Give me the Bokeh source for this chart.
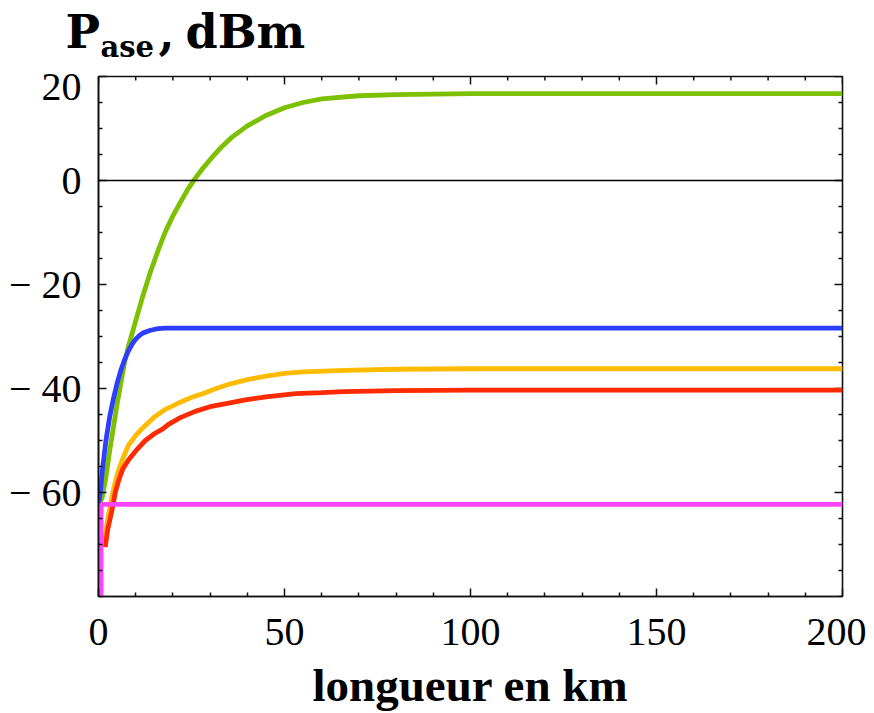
import numpy as np
from bokeh.plotting import figure
from bokeh.layouts import column
from bokeh.models import Range1d, FixedTicker, Span
from bokeh.core.properties import value
from bokeh.embed import file_html
from bokeh.resources import INLINE

# ---- data ----
green_km = [0, 1, 2, 3, 4, 5, 6, 7, 8, 10, 12, 14, 16, 18, 20, 22, 24, 26, 28, 30,
            33, 36, 40, 45, 50, 55, 60, 70, 80, 100, 150, 200]
green_db = [-62.5, -61, -57, -52, -47.5, -43, -39, -35, -32, -27, -22, -17.5, -13.5, -9.8,
            -6.8, -4.2, -1.7, 0.4, 2.3, 4, 6.4, 8.4, 10.5, 12.5, 14, 15, 15.7, 16.3, 16.5,
            16.7, 16.7, 16.7]

blue_km = [0, 0.5, 1, 2, 3, 4, 5, 6, 7, 8, 9, 10, 11, 12, 14, 16, 18, 200]
blue_db = [-62.5, -60, -56, -50, -45.5, -42, -39, -36.5, -34.5, -32.8, -31.5, -30.5,
           -29.8, -29.3, -28.8, -28.5, -28.4, -28.4]

orange_km = [1.7, 2.5, 3.2, 4, 4.6, 5.5, 6.5, 8, 10, 12, 15, 18, 21.5, 25, 28, 32, 36,
             40, 45, 50, 55, 66, 80, 100, 200]
orange_db = [-69, -65, -62.5, -59.5, -57.7, -55.5, -53.5, -51, -49, -47.5, -45.5, -44,
             -42.8, -41.7, -41, -39.9, -39, -38.3, -37.6, -37.1, -36.8, -36.5, -36.3,
             -36.2, -36.2]

red_km = [1.8, 2.5, 3.8, 4.5, 5.4, 6.5, 8, 10, 12.6, 15, 17.2, 18.8, 22, 26, 30, 35,
          39.5, 45, 53, 60, 66, 80, 100, 200]
red_db = [-70.5, -67, -62.8, -60, -57.7, -55.5, -53.8, -52, -50, -48.7, -47.8, -46.9,
          -45.6, -44.4, -43.5, -42.8, -42.2, -41.6, -41, -40.8, -40.6, -40.4, -40.3, -40.3]

magenta_km = [0.7, 0.7, 200]
magenta_db = [-85, -62.3, -62.3]

x_ticks = [0, 50, 100, 150, 200]
x_minor = [v for v in range(0, 201, 10) if v not in x_ticks]
y_ticks = [20, 0, -20, -40, -60]
y_tick_labels = ["20", "0", "\u2212 20", "\u2212 40", "\u2212 60"]
y_minor = [v for v in range(-80, 21, 5) if v not in y_ticks]

title_main = "P"
title_sub = "ase"
title_comma = ","
title_unit = "dBm"
x_label = "longueur en km"

X0, X1 = 0, 200
Y0, Y1 = -80, 20

# ---- title strip ----
tw, th = 330, 63
t = figure(width=tw, height=th, output_backend="svg", toolbar_location=None,
           title=None, x_range=Range1d(0, tw), y_range=Range1d(th, 0),
           x_axis_type=None, y_axis_type=None,
           min_border=0, min_border_left=0, min_border_right=0,
           min_border_top=0, min_border_bottom=0)
t.frame_align = False
t.outline_line_color = None
t.xgrid.visible = False
t.ygrid.visible = False
t.background_fill_color = "white"
t.border_fill_color = "white"
tf = value("DejaVu Serif")
t.text(x=[65], y=[31], text=[title_main], text_font=tf, text_font_style="bold",
       text_font_size="46px", text_color="black", text_baseline="middle")
t.text(x=[100], y=[46], text=[title_sub], text_font=tf, text_font_style="bold",
       text_font_size="29px", text_color="black", text_baseline="middle")
t.text(x=[158], y=[31], text=[title_comma], text_font=tf, text_font_style="bold",
       text_font_size="46px", text_color="black", text_baseline="middle")
t.text(x=[185], y=[31], text=[title_unit], text_font=tf, text_font_style="bold",
       text_font_size="46px", text_color="black", text_baseline="middle")

# ---- main figure ----
p = figure(width=866, height=713 - th, output_backend="svg", toolbar_location=None,
           x_range=Range1d(X0, X1), y_range=Range1d(Y0, Y1),
           min_border_left=98, min_border_right=24, min_border_top=76 - th,
           min_border_bottom=713 - th - (76 - th) - 522)
p.frame_align = False
p.background_fill_color = "white"
p.border_fill_color = "white"
p.outline_line_color = "#111111"
p.outline_line_width = 1.6
p.xgrid.visible = False
p.ygrid.visible = False

xt = FixedTicker(ticks=x_ticks, minor_ticks=x_minor)
yt = FixedTicker(ticks=y_ticks, minor_ticks=y_minor)

for ax in (p.xaxis[0], p.yaxis[0]):
    ax.axis_line_color = "#111111"
    ax.axis_line_width = 1.6
    ax.major_tick_in = 8
    ax.major_tick_out = 0
    ax.minor_tick_in = 4
    ax.minor_tick_out = 0
    ax.major_tick_line_color = "#111111"
    ax.minor_tick_line_color = "#111111"
    ax.major_tick_line_width = 1.5
    ax.minor_tick_line_width = 1.5
    ax.major_label_text_font = "Liberation Serif"
    ax.major_label_text_font_size = "40px"
    ax.major_label_text_color = "black"

xa = p.xaxis[0]
xa.ticker = xt
xa.major_label_standoff = 22
xa.axis_label = x_label
xa.axis_label_text_font = "Liberation Serif"
xa.axis_label_text_font_style = "bold"
xa.axis_label_text_font_size = "47px"
xa.axis_label_text_color = "black"
xa.axis_label_standoff = 11

ya = p.yaxis[0]
ya.ticker = yt
ya.major_label_standoff = 17
ya.major_label_overrides = {tk: s for tk, s in zip(y_ticks, y_tick_labels)}

# mirrored inward ticks on the top and right edges
tick_col = "#111111"
p.ray(x=x_ticks, y=[Y1] * len(x_ticks), length=8, angle=-np.pi / 2,
      length_units="screen", line_color=tick_col, line_width=1.5)
p.ray(x=x_minor, y=[Y1] * len(x_minor), length=4, angle=-np.pi / 2,
      length_units="screen", line_color=tick_col, line_width=1.5)
p.ray(x=[X1] * len(y_ticks), y=y_ticks, length=8, angle=np.pi,
      length_units="screen", line_color=tick_col, line_width=1.5)
p.ray(x=[X1] * len(y_minor), y=y_minor, length=4, angle=np.pi,
      length_units="screen", line_color=tick_col, line_width=1.5)

# zero line
p.add_layout(Span(location=0, dimension="width", line_color="black", line_width=1.3))

lw = 4.8
p.line(green_km, green_db, line_color="#7cc000", line_width=lw)
p.line(orange_km, orange_db, line_color="#ffbb00", line_width=lw)
p.line(red_km, red_db, line_color="#ff2a00", line_width=lw)
p.line(blue_km, blue_db, line_color="#2f3dff", line_width=lw)
p.line(magenta_km, magenta_db, line_color="#ff44ff", line_width=lw)

layout = column(t, p, spacing=0)
open("out.html", "w").write(file_html(layout, INLINE))
